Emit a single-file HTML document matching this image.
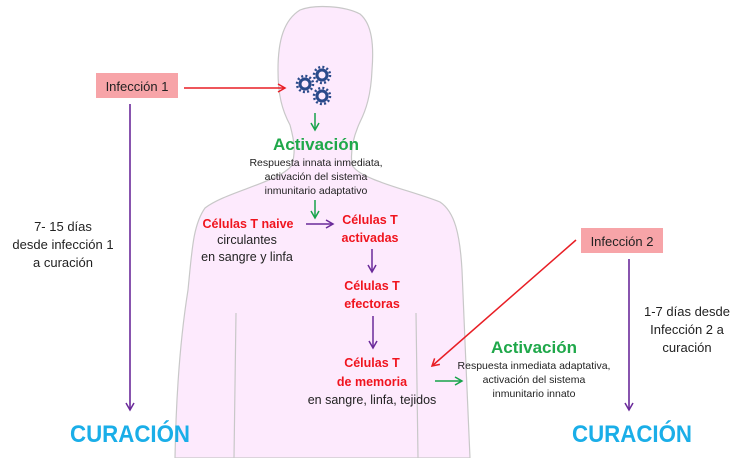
<!DOCTYPE html>
<html><head><meta charset="utf-8"><style>
html,body{margin:0;padding:0;background:#fff}
svg{display:block}
text{font-family:"Liberation Sans",sans-serif}
</style></head><body>
<svg width="754" height="458" viewBox="0 0 754 458" xmlns="http://www.w3.org/2000/svg">
<defs>
<marker id="ar2" markerWidth="10" markerHeight="10" refX="8" refY="5" orient="auto" markerUnits="userSpaceOnUse"><path d="M1,1 L8,5 L1,9" fill="none" stroke="#e81e25" stroke-width="1.5"/></marker>
<marker id="ag" markerWidth="10" markerHeight="10" refX="8" refY="5" orient="auto" markerUnits="userSpaceOnUse"><path d="M1,1 L8,5 L1,9" fill="none" stroke="#16a34a" stroke-width="1.5"/></marker>
<marker id="ap" markerWidth="10" markerHeight="10" refX="8" refY="5" orient="auto" markerUnits="userSpaceOnUse"><path d="M1,1 L8,5 L1,9" fill="none" stroke="#6a2a9a" stroke-width="1.5"/></marker>
<g id="v"><circle r="5" fill="none" stroke="#2a4a8a" stroke-width="3"/><circle r="8" fill="none" stroke="#2a4a8a" stroke-width="2.5" stroke-dasharray="2 2.2"/></g>
</defs>
<path d="M300,10 C315,4 345,6 360,14 C372,24 374,45 372,70 C371,95 366,110 360,122 C354,135 350,150 352,165 C360,180 410,190 440,202 C455,212 460,235 462,270 C464,330 468,400 470,458 L175,458 C176,400 180,340 188,290 C192,250 193,225 205,208 C225,192 280,182 292,165 C296,150 294,140 290,125 C282,110 278,95 278,70 C278,40 284,20 300,10 Z" fill="#fdeafd" stroke="#c8c8c8" stroke-width="1.2"/>
<path d="M236,313 L234,458 M416,313 L418,458" stroke="#c8c8c8" stroke-width="1.2" fill="none"/>
<use href="#v" x="305" y="84"/><use href="#v" x="322" y="75"/><use href="#v" x="322" y="96"/>
<rect x="96" y="73" width="82" height="25" fill="#f7a4a8"/>
<text x="137" y="91" font-size="13" text-anchor="middle" fill="#222">Infección 1</text>
<rect x="581" y="228" width="82" height="25" fill="#f7a4a8"/>
<text x="622" y="246" font-size="13" text-anchor="middle" fill="#222">Infección 2</text>
<line x1="184" y1="88" x2="285" y2="88" stroke="#e81e25" stroke-width="1.5" marker-end="url(#ar2)"/>
<line x1="576" y1="240" x2="432" y2="366" stroke="#e81e25" stroke-width="1.5" marker-end="url(#ar2)"/>
<line x1="130" y1="104" x2="130" y2="410" stroke="#6a2a9a" stroke-width="1.6" marker-end="url(#ap)"/>
<line x1="629" y1="259" x2="629" y2="410" stroke="#6a2a9a" stroke-width="1.6" marker-end="url(#ap)"/>
<line x1="315" y1="113" x2="315" y2="130" stroke="#16a34a" stroke-width="1.5" marker-end="url(#ag)"/>
<line x1="315" y1="200" x2="315" y2="218" stroke="#16a34a" stroke-width="1.5" marker-end="url(#ag)"/>
<line x1="306" y1="224" x2="333" y2="224" stroke="#6a2a9a" stroke-width="1.5" marker-end="url(#ap)"/>
<line x1="372" y1="249" x2="372" y2="272" stroke="#6a2a9a" stroke-width="1.5" marker-end="url(#ap)"/>
<line x1="373" y1="316" x2="373" y2="348" stroke="#6a2a9a" stroke-width="1.5" marker-end="url(#ap)"/>
<line x1="435" y1="381" x2="462" y2="381" stroke="#16a34a" stroke-width="1.5" marker-end="url(#ag)"/>
<text x="316" y="150" font-size="17" font-weight="bold" text-anchor="middle" fill="#1fa84a">Activación</text>
<g font-size="10.5" text-anchor="middle" fill="#222">
<text x="316" y="166">Respuesta innata inmediata,</text>
<text x="316" y="180">activación del sistema</text>
<text x="316" y="194">inmunitario adaptativo</text>
</g>
<g font-size="12.5" font-weight="bold" text-anchor="middle" fill="#f0141e">
<text x="248" y="228">Células T naive</text>
<text x="370" y="224">Células T</text>
<text x="370" y="242">activadas</text>
<text x="372" y="290">Células T</text>
<text x="372" y="308">efectoras</text>
<text x="372" y="367">Células T</text>
<text x="372" y="386">de memoria</text>
</g>
<g font-size="12.5" text-anchor="middle" fill="#222">
<text x="247" y="244">circulantes</text>
<text x="247" y="261">en sangre y linfa</text>
<text x="372" y="404">en sangre, linfa, tejidos</text>
</g>
<text x="534" y="353" font-size="17" font-weight="bold" text-anchor="middle" fill="#1fa84a">Activación</text>
<g font-size="10.5" text-anchor="middle" fill="#222">
<text x="534" y="369">Respuesta inmediata adaptativa,</text>
<text x="534" y="383">activación del sistema</text>
<text x="534" y="397">inmunitario innato</text>
</g>
<g font-size="13" text-anchor="middle" fill="#222">
<text x="63" y="231">7- 15 días</text>
<text x="63" y="249">desde infección 1</text>
<text x="63" y="267">a curación</text>
<text x="687" y="316">1-7 días desde</text>
<text x="687" y="334">Infección 2 a</text>
<text x="687" y="352">curación</text>
</g>
<text x="130" y="442" font-size="24" font-weight="bold" text-anchor="middle" fill="#1aaee8" textLength="120" lengthAdjust="spacingAndGlyphs">CURACIÓN</text>
<text x="632" y="442" font-size="24" font-weight="bold" text-anchor="middle" fill="#1aaee8" textLength="120" lengthAdjust="spacingAndGlyphs">CURACIÓN</text>
</svg>
</body></html>
